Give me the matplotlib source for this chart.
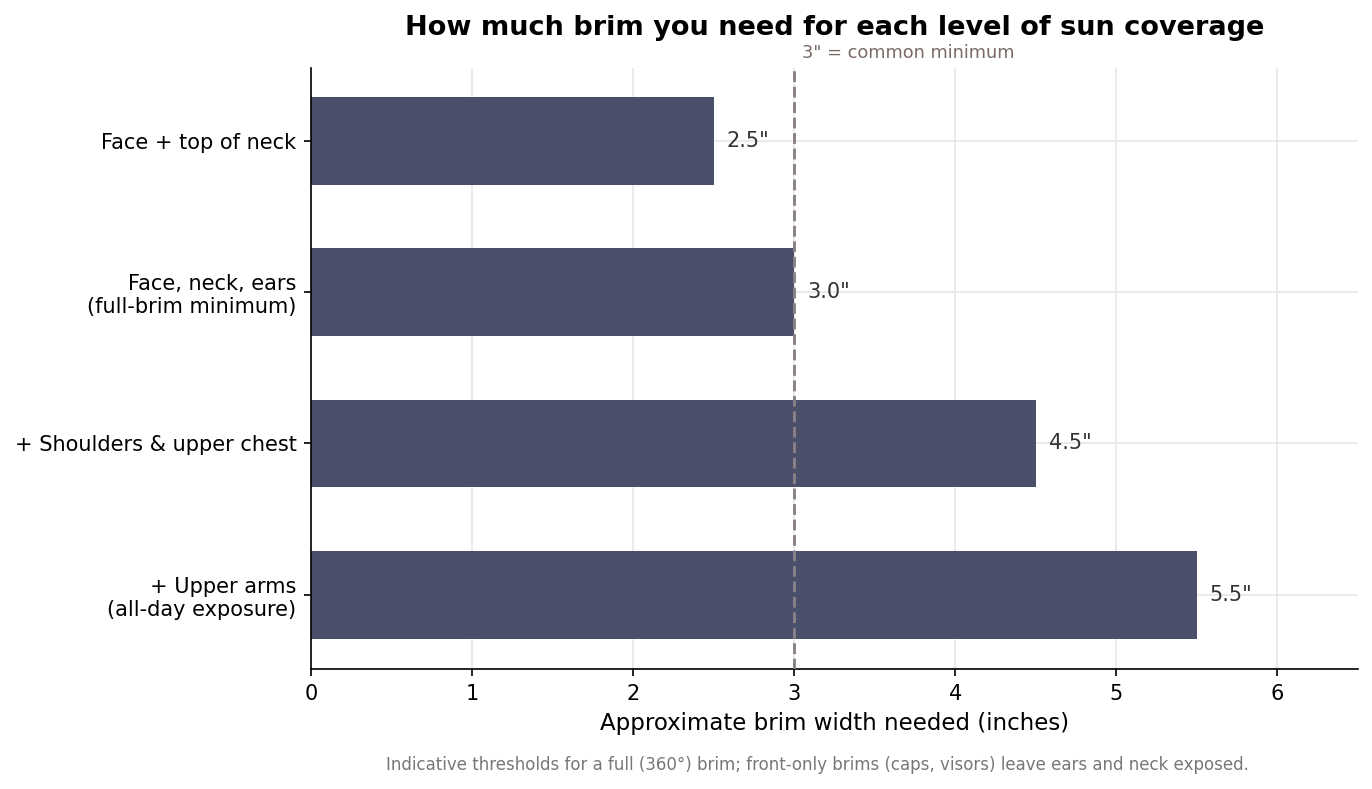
import matplotlib.pyplot as plt

# coverage levels and the brim width each one needs (inches)
levels = [
    "Face + top of neck",
    "Face, neck, ears\n(full-brim minimum)",
    "+ Shoulders & upper chest",
    "+ Upper arms\n(all-day exposure)",
]
brim_inches = [2.5, 3.0, 4.5, 5.5]
threshold = 3.0
x_ticks = [0, 1, 2, 3, 4, 5, 6]

fig = plt.figure(figsize=(1372 / 150, 789 / 150), dpi=150)
ax = fig.add_axes([0.2267, 0.1521, 0.7631, 0.7617])

ypos = list(range(len(levels)))
ax.barh(ypos, brim_inches, height=0.58, color="#4a4f6a", zorder=2)
ax.set_yticks(ypos)
ax.set_yticklabels(levels, fontsize=10)
ax.set_ylim(3.49, -0.48)

for y, v in zip(ypos, brim_inches):
    ax.text(v + 0.08, y, f'{v:.1f}"', va="center", ha="left",
            fontsize=10, color="#333333", zorder=3)

ax.axvline(threshold, color="#8a8088", linestyle="--", linewidth=1.4, zorder=3)
ax.text(threshold + 0.05, 1.01, '3" = common minimum', transform=ax.get_xaxis_transform(),
        ha="left", va="bottom", fontsize=8.5, color="#7a6a66")

ax.set_xlim(0, 6.5)
ax.set_xticks(x_ticks)
ax.tick_params(axis="x", labelsize=10)
ax.set_xlabel("Approximate brim width needed (inches)", fontsize=11)
ax.grid(True, color="#e6e6e6", linewidth=0.8, zorder=0)
ax.set_axisbelow(True)
for side in ["top", "right"]:
    ax.spines[side].set_visible(False)

ax.set_title("How much brim you need for each level of sun coverage",
             fontsize=13, fontweight="bold", pad=16)

fig.text(0.5955, 0.031, "Indicative thresholds for a full (360°) brim; front-only brims "
         "(caps, visors) leave ears and neck exposed.",
         ha="center", va="center", fontsize=8, color="#777777")

fig.savefig("out.png", dpi=150)
